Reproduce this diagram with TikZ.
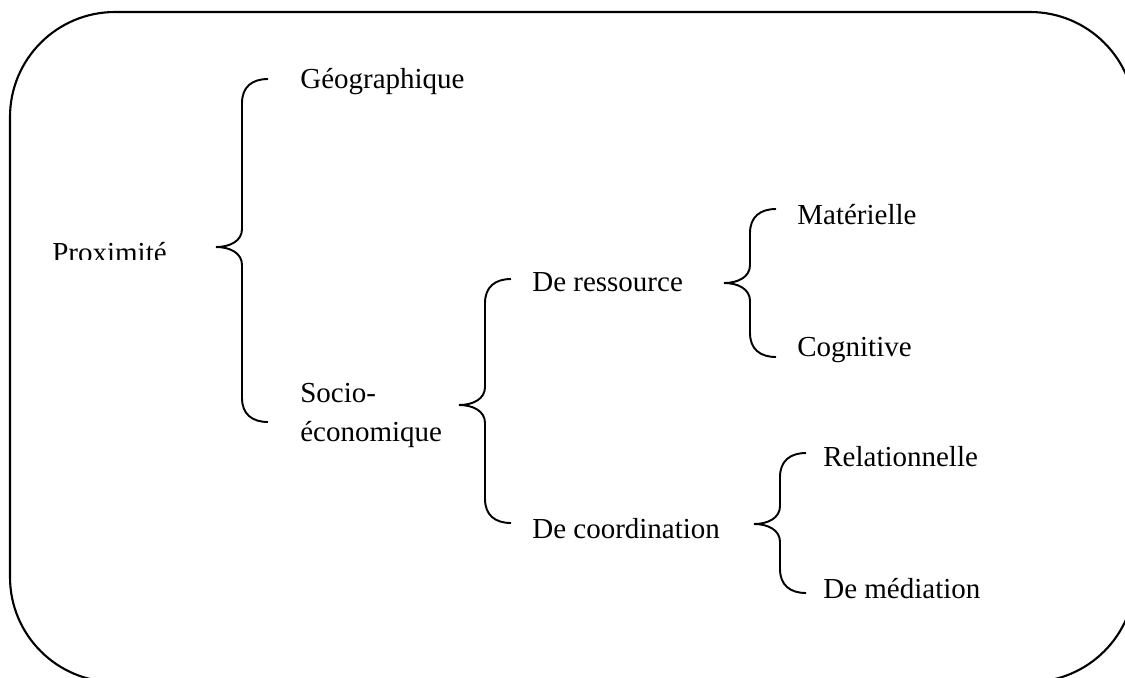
\documentclass[tikz,border=0pt]{standalone}
\usepackage{fontspec}
\setmainfont{Liberation Serif}
% accolade : x du trait, y du haut, y de la pointe, y du bas
\newcommand{\accolade}[4]{%
    \draw[accolade] (#1+26,#2) .. controls (#1+10,#2) and (#1,#2+8) .. (#1,#2+24)
        -- (#1,#3-18) .. controls (#1,#3-6) and (#1-12,#3) .. (#1-26,#3)
        .. controls (#1-12,#3) and (#1,#3+6) .. (#1,#3+18)
        -- (#1,#4-24) .. controls (#1,#4-8) and (#1+10,#4) .. (#1+26,#4);}
\begin{document}
\begin{tikzpicture}[x=0.02cm, y=-0.02cm,
    terme/.style={anchor=base west, inner sep=0pt, font=\fontsize{16.5}{22.1}\selectfont},
    accolade/.style={line width=1.1pt}]
    \useasboundingbox (0,0) rectangle (1125,677);
    \clip (0,0) rectangle (1125,677);
    % cadre
    \draw[line width=1.2pt, rounded corners=2.1cm] (10,12) rectangle (1135,682);
    % termes
    \begin{scope}
        \clip (0,0) rectangle (300,259);
        \node[terme] (prox) at (52,262) {Proximité};
    \end{scope}
    \node[terme] (geo) at (300,88) {Géographique};
    \node[terme, align=left] (socio) at (300,441) {Socio-\\économique};
    \node[terme] (res) at (532,291) {De ressource};
    \node[terme] (coord) at (532,538) {De coordination};
    \node[terme] (mat) at (797,224) {Matérielle};
    \node[terme] (cog) at (797,356) {Cognitive};
    \node[terme] (rel) at (823,466) {Relationnelle};
    \node[terme] (med) at (823,598) {De médiation};
    % accolades
    \accolade{242}{79}{247}{422}
    \accolade{485}{279}{405}{523}
    \accolade{750}{209}{283}{357}
    \accolade{780}{453}{524}{593}
\end{tikzpicture}
\end{document}
